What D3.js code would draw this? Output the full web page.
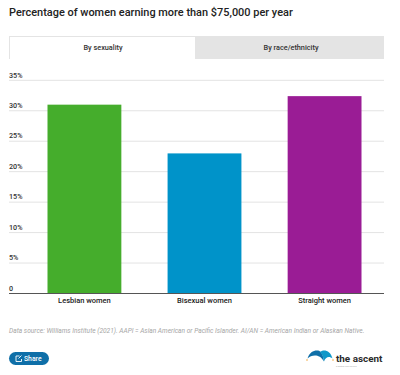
<!DOCTYPE html>
<html>
<head>
<meta charset="utf-8">
<script src="https://cdnjs.cloudflare.com/ajax/libs/d3/7.8.5/d3.min.js"></script>
<style>
html,body{margin:0;padding:0;background:#fff;overflow:hidden}
svg{display:block;font-family:'Roboto',sans-serif}
</style>
</head>
<body>
<div id="chart"></div>
<script>
const categories = ['Lesbian women','Bisexual women','Straight women'];
const values = [31, 23, 32.4];
const colors = ['#45ad2c','#0093c9','#9a1c95'];
const yTicks = [0,5,10,15,20,25,30,35];
const tabs = ['By sexuality','By race/ethnicity'];
const title = 'Percentage of women earning more than $75,000 per year';
const source = 'Data source: Williams Institute (2021). AAPI = Asian American or Pacific Islander. AI/AN = American Indian or Alaskan Native.';

const W = 400, H = 375;
const svg = d3.select('#chart').append('svg').attr('width',W).attr('height',H);

svg.append('text').attr('x',9).attr('y',15.5).style('font-size','10.95px').style('font-weight','500').style('fill','#222').text(title);

// tabs
svg.append('rect').attr('x',9).attr('y',36).attr('width',375).attr('height',23).attr('fill','#e4e4e4');
svg.append('rect').attr('x',10).attr('y',37).attr('width',185).attr('height',23).attr('fill','#fff');
svg.append('path').attr('d','M9.5 59V36.5H195.5').attr('fill','none').attr('stroke','#e4e4e4');
svg.selectAll('.tab').data(tabs).join('text').attr('class','tab')
  .attr('x',(d,i)=>i?291:103).attr('y',49.5).attr('text-anchor','middle')
  .style('font-size','7.3px').style('font-weight','500').style('fill','#333').text(d=>d);

const x = d3.scaleBand().domain(categories).range([47.5,361.5]).paddingInner(0.385).paddingOuter(0);
const y = d3.scaleLinear().domain([0,35]).range([293.5,80.3]);

// grid
svg.selectAll('.grid').data(yTicks.filter(d=>d>0)).join('line').attr('class','grid')
  .attr('x1',9).attr('x2',384).attr('y1',d=>y(d)).attr('y2',d=>y(d))
  .attr('stroke','#e3e3e3').attr('stroke-width',1);

svg.selectAll('.ylab').data(yTicks).join('text').attr('class','ylab')
  .attr('x',9).attr('y',d=>y(d)-2.8)
  .style('font-size','7.2px').style('font-weight','500').style('fill','#333')
  .text(d=>d===0?'0':d+'%');

// bars
svg.selectAll('.bar').data(values).join('rect').attr('class','bar')
  .attr('x',(d,i)=>x(categories[i])).attr('y',d=>y(d))
  .attr('width',x.bandwidth()).attr('height',d=>y(0)-y(d))
  .attr('fill',(d,i)=>colors[i]);

// baseline and category labels
const axis = svg.append('g').attr('transform',`translate(0,${y(0)})`)
  .call(d3.axisBottom(x).tickSize(0).tickPadding(4));
axis.select('.domain').remove();
axis.selectAll('text').style('font-family',"'Roboto',sans-serif").style('font-size','7.5px').style('font-weight','500').style('fill','#222');
svg.append('line').attr('x1',9).attr('x2',384).attr('y1',y(0)).attr('y2',y(0)).attr('stroke','#555').attr('stroke-width',1.2);

svg.append('text').attr('x',9).attr('y',332.5).style('font-size','6.6px').style('font-style','italic').style('fill','#a6a6a6').text(source);

// share button
svg.append('rect').attr('x',9).attr('y',352).attr('width',40).attr('height',13).attr('rx',6.5).attr('fill','#0f6fa8');
svg.append('path').attr('d','M19.5 356H16V361.5H21.5V359M18.5 358.5L21.5 355.5').attr('fill','none').attr('stroke','#fff').attr('stroke-width',.9);
svg.append('text').attr('x',24).attr('y',361).style('font-size','6.8px').style('font-weight','500').style('fill','#fff').text('Share');

// logo
const logo = svg.append('g');
logo.append('path').attr('d','M307.5 358.5C309.5 352 314 350 318 350.5C321 351 323 354 324 361.5C321.5 357 318 355.5 315 355.5C312 355.5 309.5 356.5 307.5 358.5Z').attr('fill','#0f6fa8');
logo.append('path').attr('d','M332.5 358.5C331 352.5 327 350 323 350.5C321 351 320 352 320 352C322 354 323.5 357 324 361.5C325.5 357 329 355.5 332.5 358.5Z').attr('fill','#1098c9');
logo.append('circle').attr('cx',307).attr('cy',360).attr('r',.8).attr('fill','#f2a63a');
logo.append('circle').attr('cx',333).attr('cy',360).attr('r',.8).attr('fill','#f2a63a');
svg.append('text').attr('x',336).attr('y',361.5).style('font-size','9.9px').style('font-weight','700').style('fill','#2a2a2a').text('the ascent');
svg.append('text').attr('x',336).attr('y',366.5).style('font-size','2.2px').style('fill','#aaa').text('a Motley Fool service');
</script>
</body>
</html>
